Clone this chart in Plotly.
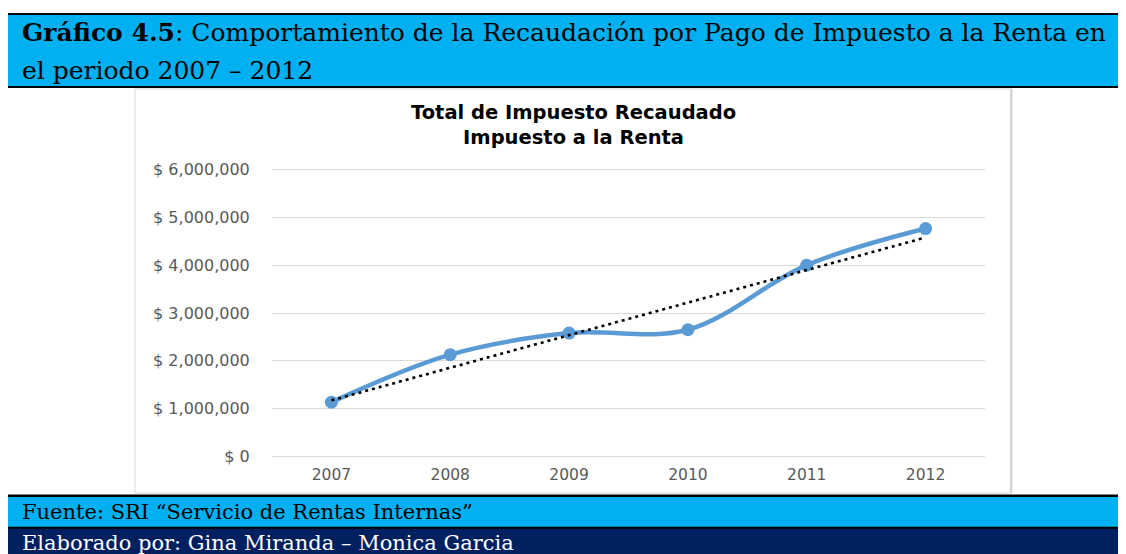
import numpy as np
import plotly.graph_objects as go

# ---------------- data ----------------
years = ["2007", "2008", "2009", "2010", "2011", "2012"]
recaudacion = [1136000, 2130000, 2580000, 2650000, 4000000, 4765000]
y_ticks = [0, 1000000, 2000000, 3000000, 4000000, 5000000, 6000000]
y_tick_labels = ["$ " + format(v, ",d") for v in y_ticks]

doc_title_1 = "<b>Gráfico 4.5</b>: Comportamiento de la Recaudación por Pago de Impuesto a la Renta en"
doc_title_2 = "el periodo 2007 – 2012"
chart_title = "<b>Total de Impuesto Recaudado<br>Impuesto a la Renta</b>"
fuente = "Fuente: SRI “Servicio de Rentas Internas”"
elaborado = "Elaborado por: Gina Miranda – Monica Garcia"

# linear trend line (Excel-style linear trendline)
xi = np.arange(len(years))
slope, intercept = np.polyfit(xi, np.array(recaudacion, dtype=float), 1)
trend = list(intercept + slope * xi)

# ---------------- layout geometry (page pixels) ----------------
PAGE_W, PAGE_H = 1126, 554
OFF = 8  # default body margin of the html page
FW, FH = PAGE_W - OFF, PAGE_H - OFF
L, R, T, B = 272, 985, 168, 458   # plot area in page pixels (slightly padded)
W, H = R - L, B - T
Y_MIN, Y_MAX = -30000, 6030000


def fx(x):
    return (x - L) / W


def fy(y):
    return (B - y) / H


def rect(x0, y0, x1, y1, fill, line_color=None, line_width=0):
    return dict(
        type="rect", xref="paper", yref="paper", layer="below",
        x0=fx(x0), x1=fx(x1), y0=fy(y1), y1=fy(y0),
        fillcolor=fill,
        line=dict(color=line_color or fill, width=line_width),
    )


CYAN = "#00B0F0"
NAVY = "#002060"

shapes = [
    rect(5, 13, 1140, 570, "black"),
    rect(7, 15, 1140, 86, CYAN),
    rect(7, 88, 1140, 494.5, "white"),
    rect(135, 89, 1012, 493, "white", "#D9D9D9", 1),
    rect(1010, 89, 1012, 493, "#D4D4D4"),
    rect(7, 497, 1140, 526.7, CYAN),
    rect(7, 528.7, 1140, 570, NAVY),
]

annotations = [
    dict(text=doc_title_1, x=fx(20), y=fy(32), xanchor="left", yanchor="middle",
         font=dict(family="DejaVu Serif", size=25, color="black")),
    dict(text=doc_title_2, x=fx(20), y=fy(70), xanchor="left", yanchor="middle",
         font=dict(family="DejaVu Serif", size=25, color="black")),
    dict(text=chart_title, x=fx(573.5), y=fy(125), xanchor="center", yanchor="middle",
         font=dict(family="DejaVu Sans", size=19.5, color="black")),
    dict(text=fuente, x=fx(20), y=fy(512), xanchor="left", yanchor="middle",
         font=dict(family="DejaVu Serif", size=21, color="black")),
    dict(text=elaborado, x=fx(20), y=fy(543), xanchor="left", yanchor="middle",
         font=dict(family="DejaVu Serif", size=21, color="white")),
]
for a in annotations:
    a.update(xref="paper", yref="paper", showarrow=False)

fig = go.Figure()
fig.add_trace(go.Scatter(
    x=years, y=recaudacion, mode="lines+markers",
    line=dict(color="#5B9BD5", width=4.5, shape="spline", smoothing=1),
    marker=dict(color="#5B9BD5", size=13),
    showlegend=False, cliponaxis=False,
))
fig.add_trace(go.Scatter(
    x=years, y=trend, mode="lines",
    line=dict(color="black", width=2.6, dash="3px,4px"),
    showlegend=False, cliponaxis=False,
))

fig.update_layout(
    width=FW, height=FH,
    margin=dict(l=L - OFF, r=PAGE_W - R, t=T - OFF, b=PAGE_H - B, pad=0),
    paper_bgcolor="white", plot_bgcolor="rgba(0,0,0,0)",
    shapes=shapes, annotations=annotations,
    xaxis=dict(
        type="category", range=[-0.5, 5.5], showgrid=False, zeroline=False,
        showline=False, ticks="outside", ticklen=2, tickcolor="rgba(0,0,0,0)",
        tickfont=dict(family="DejaVu Sans", size=15.5, color="#595959"),
        fixedrange=True,
    ),
    yaxis=dict(
        range=[Y_MIN, Y_MAX], tickmode="array",
        tickvals=y_ticks, ticktext=y_tick_labels,
        showgrid=True, gridcolor="#D9D9D9", gridwidth=1,
        zeroline=False, showline=False,
        ticks="outside", ticklen=18, tickcolor="rgba(0,0,0,0)",
        tickfont=dict(family="DejaVu Sans", size=16, color="#595959"),
        fixedrange=True,
    ),
)

fig.write_html("out.html")
